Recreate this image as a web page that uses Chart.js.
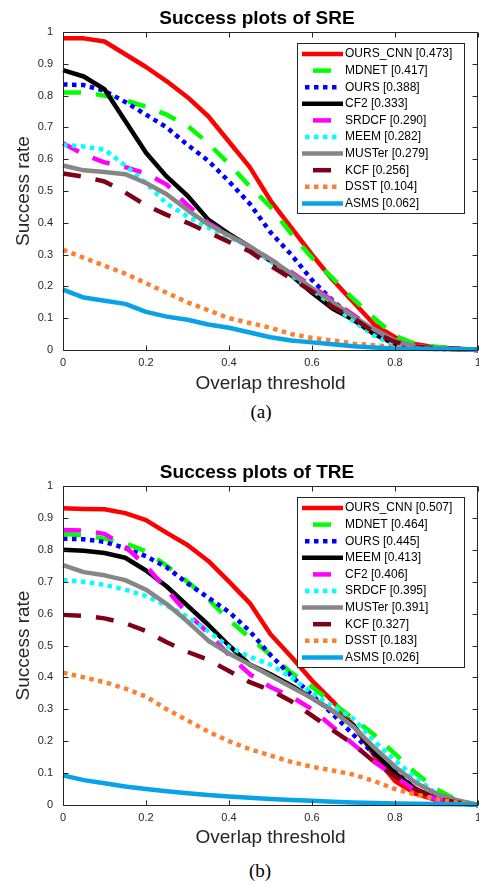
<!DOCTYPE html>
<html>
<head>
<meta charset="utf-8">
<script src="https://cdn.jsdelivr.net/npm/chart.js@4.4.1/dist/chart.umd.min.js"></script>
<style>
  html, body { margin: 0; padding: 0; background: #fff; overflow: hidden; }
  body { width: 479px; height: 884px; position: relative; }
  canvas { position: absolute; left: 0; }
  .cap { position: absolute; width: 100px; text-align: center; line-height: 20px;
         font-family: "Liberation Serif", "Times New Roman", serif; font-size: 19px; color: #000; }
</style>
</head>
<body>
<canvas id="sre" width="490" height="400" style="top:0px"></canvas>
<div class="cap" style="top:402px; left:211px">(a)</div>
<canvas id="tre" width="490" height="400" style="top:454px"></canvas>
<div class="cap" style="top:861px; left:210px">(b)</div>
<script>
// overlap thresholds (x axis)
const thresholds = [0, 0.05, 0.1, 0.15, 0.2, 0.25, 0.3, 0.35, 0.4, 0.45, 0.5,
                    0.55, 0.6, 0.65, 0.7, 0.75, 0.8, 0.85, 0.9, 0.95, 1];
const xTicks = [0, 0.2, 0.4, 0.6, 0.8, 1];
const yTicks = [0, 0.1, 0.2, 0.3, 0.4, 0.5, 0.6, 0.7, 0.8, 0.9, 1];

// SRE
const sreNames = ['OURS_CNN', 'MDNET', 'OURS', 'CF2', 'SRDCF', 'MEEM', 'MUSTer', 'KCF', 'DSST', 'ASMS'];
const sreScores = ['0.473', '0.417', '0.388', '0.333', '0.290', '0.282', '0.279', '0.256', '0.104', '0.062'];
const sreOursCnn = [0.98, 0.98, 0.97, 0.93, 0.89, 0.845, 0.795, 0.735, 0.655, 0.575, 0.47, 0.385, 0.30, 0.22, 0.15, 0.08, 0.04, 0.018, 0.008, 0.004, 0];
const sreMdnet   = [0.81, 0.81, 0.80, 0.785, 0.765, 0.74, 0.705, 0.65, 0.585, 0.515, 0.45, 0.365, 0.29, 0.225, 0.16, 0.10, 0.045, 0.018, 0.01, 0.005, 0];
const sreOurs    = [0.835, 0.833, 0.815, 0.78, 0.74, 0.70, 0.645, 0.595, 0.53, 0.46, 0.37, 0.30, 0.22, 0.155, 0.10, 0.05, 0.018, 0.008, 0.005, 0.003, 0];
const sreCf2     = [0.88, 0.86, 0.82, 0.72, 0.62, 0.545, 0.485, 0.41, 0.365, 0.325, 0.28, 0.235, 0.18, 0.13, 0.095, 0.05, 0.02, 0.01, 0.005, 0.003, 0];
const sreSrdcf   = [0.65, 0.615, 0.59, 0.575, 0.555, 0.52, 0.455, 0.40, 0.36, 0.325, 0.285, 0.245, 0.20, 0.155, 0.11, 0.065, 0.025, 0.01, 0.005, 0.003, 0];
const sreMeem    = [0.645, 0.64, 0.63, 0.58, 0.525, 0.46, 0.42, 0.385, 0.355, 0.325, 0.28, 0.235, 0.19, 0.14, 0.09, 0.045, 0.015, 0.008, 0.004, 0.002, 0];
const sreMuster  = [0.58, 0.565, 0.56, 0.553, 0.525, 0.49, 0.44, 0.395, 0.36, 0.325, 0.285, 0.24, 0.195, 0.15, 0.105, 0.065, 0.03, 0.012, 0.006, 0.003, 0];
const sreKcf     = [0.555, 0.545, 0.53, 0.495, 0.455, 0.425, 0.40, 0.37, 0.34, 0.31, 0.265, 0.225, 0.185, 0.135, 0.10, 0.055, 0.025, 0.01, 0.005, 0.003, 0];
const sreDsst    = [0.315, 0.29, 0.265, 0.24, 0.21, 0.18, 0.15, 0.125, 0.10, 0.085, 0.07, 0.05, 0.038, 0.03, 0.02, 0.015, 0.01, 0.005, 0.003, 0.002, 0];
const sreAsms    = [0.19, 0.165, 0.155, 0.145, 0.12, 0.105, 0.095, 0.08, 0.07, 0.055, 0.04, 0.03, 0.024, 0.018, 0.012, 0.008, 0.005, 0.004, 0.003, 0.002, 0.001];

// TRE
const treNames = ['OURS_CNN', 'MDNET', 'OURS', 'MEEM', 'CF2', 'SRDCF', 'MUSTer', 'KCF', 'DSST', 'ASMS'];
const treScores = ['0.507', '0.464', '0.445', '0.413', '0.406', '0.395', '0.391', '0.327', '0.183', '0.026'];
const treOursCnn = [0.93, 0.928, 0.927, 0.915, 0.893, 0.853, 0.815, 0.765, 0.70, 0.633, 0.535, 0.465, 0.39, 0.325, 0.25, 0.155, 0.075, 0.035, 0.015, 0.007, 0];
const treMdnet   = [0.85, 0.845, 0.835, 0.82, 0.795, 0.75, 0.70, 0.645, 0.58, 0.525, 0.47, 0.415, 0.37, 0.32, 0.27, 0.22, 0.16, 0.10, 0.05, 0.015, 0];
const treOurs    = [0.835, 0.833, 0.825, 0.805, 0.78, 0.745, 0.695, 0.65, 0.605, 0.545, 0.47, 0.405, 0.345, 0.285, 0.22, 0.16, 0.105, 0.05, 0.02, 0.008, 0];
const treMeem    = [0.80, 0.797, 0.79, 0.775, 0.735, 0.685, 0.625, 0.565, 0.50, 0.44, 0.41, 0.375, 0.335, 0.295, 0.25, 0.165, 0.10, 0.05, 0.02, 0.008, 0];
const treCf2     = [0.862, 0.86, 0.85, 0.81, 0.75, 0.675, 0.60, 0.54, 0.47, 0.41, 0.37, 0.34, 0.30, 0.245, 0.19, 0.135, 0.09, 0.045, 0.018, 0.007, 0];
const treSrdcf   = [0.705, 0.70, 0.69, 0.675, 0.655, 0.625, 0.59, 0.545, 0.495, 0.465, 0.44, 0.40, 0.35, 0.31, 0.27, 0.20, 0.14, 0.085, 0.035, 0.012, 0];
const treMuster  = [0.752, 0.73, 0.72, 0.705, 0.675, 0.63, 0.575, 0.515, 0.475, 0.44, 0.405, 0.37, 0.335, 0.295, 0.245, 0.18, 0.12, 0.07, 0.035, 0.015, 0];
const treKcf     = [0.596, 0.593, 0.585, 0.57, 0.545, 0.51, 0.48, 0.455, 0.42, 0.385, 0.36, 0.325, 0.28, 0.235, 0.19, 0.135, 0.09, 0.05, 0.02, 0.008, 0];
const treDsst    = [0.415, 0.40, 0.385, 0.365, 0.34, 0.30, 0.265, 0.23, 0.20, 0.175, 0.155, 0.135, 0.12, 0.108, 0.095, 0.075, 0.05, 0.033, 0.018, 0.007, 0];
const treAsms    = [0.093, 0.078, 0.068, 0.058, 0.05, 0.043, 0.037, 0.031, 0.027, 0.023, 0.019, 0.016, 0.013, 0.01, 0.008, 0.006, 0.005, 0.004, 0.003, 0.002, 0.001];

// line styles per tracker
const styles = {
  OURS_CNN: { color: '#ff0000', kind: 'solid' },
  MDNET:    { color: '#00ff00', kind: 'dash' },
  OURS:     { color: '#0000ff', kind: 'dot' },
  CF2:      { color: '#000000', kind: 'solid' },
  SRDCF:    { color: '#ff00ff', kind: 'dash' },
  MEEM:     { color: '#00ffff', kind: 'dot' },
  MUSTer:   { color: '#868686', kind: 'solid' },
  KCF:      { color: '#800018', kind: 'dash' },
  DSST:     { color: '#fd7f30', kind: 'dot' },
  ASMS:     { color: '#08a2e6', kind: 'solid' }
};
// TRE swaps the styles of MEEM/CF2/SRDCF in the legend order
const treStyles = Object.assign({}, styles, {
  MEEM:  { color: '#000000', kind: 'solid' },
  CF2:   { color: '#ff00ff', kind: 'dash' },
  SRDCF: { color: '#00ffff', kind: 'dot' }
});

const dashes = { solid: [], dash: [18, 15], dot: [4.5, 4.5] };
const axisColor = '#262626';
const FONT = '"Liberation Sans", Arial, Helvetica, sans-serif';

const frame = {
  id: 'frame',
  afterDatasetsDraw(chart) {
    const { ctx, chartArea: a, scales: { x, y } } = chart;
    const L = Math.round(a.left) + 0.5, R = Math.round(a.right) - 0.5;
    const T = Math.round(a.top) + 0.5, B = Math.round(a.bottom) + 0.5;
    ctx.save();
    ctx.strokeStyle = axisColor;
    ctx.lineWidth = 1;
    ctx.setLineDash([]);
    ctx.beginPath();
    ctx.rect(L, T, R - L, B - T);
    for (const v of xTicks) {
      const px = Math.round(x.getPixelForValue(v)) + 0.5;
      ctx.moveTo(px, B); ctx.lineTo(px, B - 5);
      ctx.moveTo(px, T); ctx.lineTo(px, T + 5);
    }
    for (const v of yTicks) {
      const py = Math.round(y.getPixelForValue(v)) + 0.5;
      ctx.moveTo(L, py); ctx.lineTo(L + 5, py);
      ctx.moveTo(R, py); ctx.lineTo(R - 5, py);
    }
    ctx.stroke();
    ctx.restore();
  },
  afterDraw(chart, args, opts) {
    const { ctx, chartArea: a } = chart;
    ctx.save();
    // title
    ctx.fillStyle = '#000';
    ctx.font = 'bold 19px ' + FONT;
    ctx.textAlign = 'center';
    ctx.textBaseline = 'alphabetic';
    ctx.fillText(opts.title, 257, 23.5);
    // legend box
    const bx = 297.5, by = a.top + 11.5, bw = 167, bh = 170;
    ctx.fillStyle = '#fff';
    ctx.fillRect(bx, by, bw, bh);
    ctx.strokeStyle = axisColor;
    ctx.lineWidth = 1;
    ctx.strokeRect(bx, by, bw, bh);
    ctx.font = '12px ' + FONT;
    ctx.textAlign = 'left';
    ctx.textBaseline = 'middle';
    chart.data.datasets.forEach((ds, i) => {
      const yy = a.top + 22 + i * 16.6;
      const kind = ds.kind;
      let x0 = 302, x1 = 343;
      if (kind === 'dash') { x0 = 313; x1 = 331; }
      if (kind === 'dot') { x0 = 305; x1 = 337; }
      ctx.strokeStyle = ds.borderColor;
      ctx.lineWidth = ds.borderWidth;
      ctx.setLineDash(ds.borderDash);
      ctx.lineCap = 'butt';
      ctx.beginPath();
      ctx.moveTo(x0, yy); ctx.lineTo(x1, yy);
      ctx.stroke();
      ctx.setLineDash([]);
      ctx.fillStyle = '#000';
      ctx.fillText(ds.label, 345, yy);
    });
    ctx.restore();
  }
};

function makeChart(id, title, names, scores, series, styleMap, plotBottom) {
  const datasets = names.map((n, i) => {
    const st = styleMap[n];
    return {
      label: n + ' [' + scores[i] + ']',
      kind: st.kind,
      data: thresholds.map((t, j) => ({ x: t, y: series[i][j] })),
      borderColor: st.color,
      backgroundColor: st.color,
      borderWidth: 4.5,
      borderDash: dashes[st.kind],
      borderCapStyle: 'butt',
      borderJoinStyle: 'round',
      pointRadius: 0,
      tension: 0,
      fill: false,
      clip: false,
      order: names.length - i
    };
  });
  return new Chart(document.getElementById(id), {
    type: 'line',
    data: { datasets },
    plugins: [frame],
    options: {
      responsive: false,
      animation: false,
      devicePixelRatio: 1,
      layout: { padding: { top: 32, right: 12, left: 0, bottom: 0 } },
      plugins: {
        legend: { display: false },
        tooltip: { enabled: false },
        frame: { title }
      },
      scales: {
        x: {
          type: 'linear', min: 0, max: 1,
          grid: { display: false, drawTicks: false },
          border: { display: false },
          afterBuildTicks: s => { s.ticks = xTicks.map(v => ({ value: v })); },
          afterFit: s => { s.height = 400 - plotBottom; },
          ticks: {
            padding: 6, color: axisColor, maxRotation: 0,
            font: { family: FONT, size: 11 },
            callback: v => String(Math.round(v * 10) / 10)
          },
          title: {
            display: true, text: 'Overlap threshold', color: axisColor,
            font: { family: FONT, size: 19 }, padding: { top: 0, bottom: 5 }
          }
        },
        y: {
          type: 'linear', min: 0, max: 1,
          grid: { display: false, drawTicks: false },
          border: { display: false },
          afterBuildTicks: s => { s.ticks = yTicks.map(v => ({ value: v })); },
          afterFit: s => { s.width = 63; },
          ticks: {
            padding: 10, color: axisColor,
            font: { family: FONT, size: 11 },
            callback: v => String(Math.round(v * 10) / 10)
          },
          title: {
            display: true, text: 'Success rate', color: axisColor,
            font: { family: FONT, size: 19 }, padding: { top: 12, bottom: 0 }
          }
        }
      }
    }
  });
}

makeChart('sre', 'Success plots of SRE', sreNames, sreScores,
  [sreOursCnn, sreMdnet, sreOurs, sreCf2, sreSrdcf, sreMeem, sreMuster, sreKcf, sreDsst, sreAsms],
  styles, 350);
makeChart('tre', 'Success plots of TRE', treNames, treScores,
  [treOursCnn, treMdnet, treOurs, treMeem, treCf2, treSrdcf, treMuster, treKcf, treDsst, treAsms],
  treStyles, 351);
</script>
</body>
</html>
